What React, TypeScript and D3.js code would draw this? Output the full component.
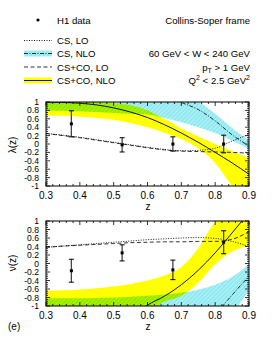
import React from "react";
import * as d3 from "d3";

const zGrid = [0.3, 0.35, 0.4, 0.45, 0.5, 0.55, 0.6, 0.65, 0.7, 0.75, 0.8, 0.85, 0.9];

// lambda(z)
const lamDataZ = [0.375, 0.525, 0.675, 0.825];
const lamData = [0.48, -0.02, 0.0, 0.0];
const lamErr = [0.31, 0.17, 0.17, 0.21];
const lamCsLo = [0.25, 0.21, 0.16, 0.1, 0.04, -0.02, -0.08, -0.13, -0.16, -0.15, -0.1, 0.07, 0.23];
const lamCoLo = [0.25, 0.2, 0.15, 0.09, 0.03, -0.03, -0.09, -0.14, -0.17, -0.18, -0.19, -0.2, -0.22];
const lamCsNloZ = [0.68, 0.7, 0.75, 0.8, 0.85, 0.9];
const lamCsNlo = [1.06, 0.99, 0.82, 0.55, 0.22, -0.05];
const lamCsNloLow = [0.8, 0.79, 0.78, 0.76, 0.74, 0.72, 0.7, 0.62, 0.52, 0.4, 0.26, 0.08, -0.12];
const lamCsNloHigh = [1.1, 1.1, 1.1, 1.1, 1.1, 1.1, 1.1, 1.1, 1.1, 1.0, 0.72, 0.38, 0.08];
const lamCoNlo = [1.0, 0.99, 0.97, 0.93, 0.86, 0.76, 0.63, 0.46, 0.26, 0.04, -0.2, -0.45, -0.72];
const lamCoNloLow = [0.68, 0.67, 0.65, 0.62, 0.58, 0.5, 0.4, 0.27, 0.12, -0.1, -0.45, -1.0, -1.5];
const lamCoNloHigh = [1.05, 1.03, 1.01, 0.99, 0.97, 0.92, 0.8, 0.6, 0.37, 0.18, 0.0, -0.17, -0.33];

// nu(z)
const nuDataZ = [0.375, 0.525, 0.675, 0.825];
const nuData = [-0.17, 0.25, -0.15, 0.5];
const nuErr = [0.27, 0.19, 0.23, 0.27];
const nuCsLo = [0.38, 0.41, 0.44, 0.47, 0.5, 0.53, 0.56, 0.58, 0.6, 0.61, 0.59, 0.52, 0.4];
const nuCoLo = [0.38, 0.41, 0.43, 0.45, 0.47, 0.49, 0.5, 0.51, 0.51, 0.52, 0.52, 0.57, 0.75];
const nuCsNloZ = [0.82, 0.86, 0.9];
const nuCsNlo = [-1.02, -0.65, -0.3];
const nuCsNloLow = [-1.1, -1.1, -1.1, -1.1, -1.1, -1.1, -1.1, -1.1, -1.1, -1.1, -1.1, -1.08, -0.6];
const nuCsNloHigh = [-0.82, -0.82, -0.82, -0.81, -0.8, -0.78, -0.76, -0.73, -0.69, -0.62, -0.5, -0.32, -0.02];
const nuCoNloZ = [0.58, 0.6, 0.65, 0.7, 0.75, 0.8, 0.85, 0.9];
const nuCoNlo = [-1.1, -0.98, -0.77, -0.5, -0.16, 0.25, 0.72, 1.2];
const nuCoNloLow = [-1.1, -1.1, -1.1, -1.1, -1.1, -1.1, -1.1, -0.9, -0.76, -0.45, -0.02, 0.28, 0.42];
const nuCoNloHigh = [-0.64, -0.63, -0.61, -0.58, -0.54, -0.48, -0.4, -0.28, -0.08, 0.36, 0.97, 1.15, 1.2];

const xTicks = [0.3, 0.4, 0.5, 0.6, 0.7, 0.8, 0.9];
const yTicks = [1, 0.8, 0.6, 0.4, 0.2, 0, -0.2, -0.4, -0.6, -0.8, -1];

const FONT = "'Liberation Sans', Arial, sans-serif";
const YELLOW = "#ffff00";

function Panel({ id, top, bottom, ylab, labY, d }) {
  const left = 46;
  const right = 249;
  const x = d3.scaleLinear().domain([0.3, 0.9]).range([left, right]);
  const y = d3.scaleLinear().domain([-1, 1]).range([bottom, top]);

  const line = (zs, vs) =>
    d3
      .line<number>()
      .x((_, i) => x(zs[i]))
      .y((v) => y(v))
      .curve(d3.curveMonotoneX)(vs);
  const area = (zs, lo, hi) =>
    d3
      .area<number>()
      .x((z) => x(z))
      .y0((_, i) => y(lo[i]))
      .y1((_, i) => y(hi[i]))
      .curve(d3.curveMonotoneX)(zs);

  const xMinor = d3.range(0.3, 0.9001, 0.02);
  const yMinor = d3.range(-1, 1.0001, 0.05);

  return (
    <g>
      <defs>
        <clipPath id={`clip-${id}`}>
          <rect x={left} y={top} width={right - left} height={bottom - top} />
        </clipPath>
      </defs>
      <g clipPath={`url(#clip-${id})`}>
        <path d={area(zGrid, d.coLow, d.coHigh)} fill={YELLOW} />
        <path
          d={area(zGrid, d.csLow, d.csHigh)}
          fill="url(#hatch)"
          style={{ mixBlendMode: "multiply" }}
        />
        <path d={line(d.csNloZ, d.csNlo)} fill="none" stroke="#000" strokeWidth={0.8} strokeDasharray="4,1.5,1,1.5" />
        <path d={line(zGrid, d.csLo)} fill="none" stroke="#000" strokeWidth={0.9} strokeDasharray="1,1.5" />
        <path d={line(zGrid, d.coLo)} fill="none" stroke="#000" strokeWidth={0.8} strokeDasharray="4,2.5" />
        <path d={line(d.coNloZ, d.coNlo)} fill="none" stroke="#000" strokeWidth={0.9} />
      </g>
      {d.dataZ.map((z, i) => {
        const cx = x(z);
        const y1 = y(d.data[i] + d.err[i]);
        const y2 = y(d.data[i] - d.err[i]);
        return (
          <g key={i}>
            <line x1={cx} x2={cx} y1={y1} y2={y2} stroke="#444" strokeWidth={1.3} />
            <line x1={cx - 2.5} x2={cx + 2.5} y1={y1} y2={y1} stroke="#000" strokeWidth={1} />
            <line x1={cx - 2.5} x2={cx + 2.5} y1={y2} y2={y2} stroke="#000" strokeWidth={1} />
            <rect x={cx - 1.5} y={y(d.data[i]) - 1.5} width={3} height={3} fill="#000" />
          </g>
        );
      })}
      {/* ticks */}
      {xMinor.map((t, i) => {
        const major = i % 5 === 0;
        const l = major ? 4 : 2;
        return (
          <g key={`xm${i}`} stroke="#000" strokeWidth={0.8}>
            <line x1={x(t)} x2={x(t)} y1={bottom} y2={bottom - l} />
            <line x1={x(t)} x2={x(t)} y1={top} y2={top + l} />
          </g>
        );
      })}
      {yMinor.map((t, i) => {
        const major = i % 4 === 0;
        const l = major ? 4 : 2;
        return (
          <g key={`ym${i}`} stroke="#000" strokeWidth={0.8}>
            <line x1={left} x2={left + l} y1={y(t)} y2={y(t)} />
            <line x1={right} x2={right - l} y1={y(t)} y2={y(t)} />
          </g>
        );
      })}
      <rect x={left} y={top} width={right - left} height={bottom - top} fill="none" stroke="#000" strokeWidth={1} />
      {xTicks.map((t) => (
        <text key={`xl${t}`} x={x(t)} y={bottom + 13} textAnchor="middle" fontSize={10}>
          {t.toFixed(1)}
        </text>
      ))}
      {yTicks.map((t) => (
        <text key={`yl${t}`} x={39} y={y(t) + 3} textAnchor="end" fontSize={8.6}>
          {String(Math.round(t * 10) / 10)}
        </text>
      ))}
      <text x={148} y={bottom + 24} textAnchor="middle" fontSize={10}>
        z
      </text>
      <text transform={`translate(16,${labY}) rotate(-90)`} textAnchor="middle" fontSize={10}>
        {ylab}
      </text>
    </g>
  );
}

function Legend() {
  const x1 = 24;
  const x2 = 52;
  const tx = 57;
  const rx = 250;
  return (
    <g fontSize={9.6}>
      <circle cx={38} cy={20} r={1.6} fill="#000" />
      <text x={tx} y={23.5}>H1 data</text>
      <text x={rx} y={23.5} textAnchor="end">Collins-Soper frame</text>

      <line x1={x1} x2={x2} y1={40.5} y2={40.5} stroke="#000" strokeWidth={0.9} strokeDasharray="1,1.5" />
      <text x={tx} y={44}>CS, LO</text>

      <rect x={x1} y={50.5} width={x2 - x1} height={6} fill="url(#hatch)" />
      <line x1={x1} x2={x2} y1={53.5} y2={53.5} stroke="#000" strokeWidth={0.8} strokeDasharray="4,1.5,1,1.5" />
      <text x={tx} y={57}>CS, NLO</text>

      <line x1={x1} x2={x2} y1={67} y2={67} stroke="#000" strokeWidth={0.8} strokeDasharray="4,2.5" />
      <text x={tx} y={70.5}>CS+CO, LO</text>

      <rect x={x1} y={77.5} width={x2 - x1} height={6} fill={YELLOW} />
      <line x1={x1} x2={x2} y1={80.5} y2={80.5} stroke="#000" strokeWidth={0.9} />
      <text x={tx} y={84}>CS+CO, NLO</text>

      <text x={rx} y={57} textAnchor="end">60 GeV &lt; W &lt; 240 GeV</text>
      <text x={rx} y={70.5} textAnchor="end">
        p<tspan fontSize={7} dy={2}>T</tspan>
        <tspan dy={-2}> &gt; 1 GeV</tspan>
      </text>
      <text x={rx} y={84} textAnchor="end">
        Q<tspan fontSize={7} dy={-4}>2</tspan>
        <tspan dy={4}> &lt; 2.5 GeV</tspan>
        <tspan fontSize={7} dy={-4}>2</tspan>
      </text>
    </g>
  );
}

export default function App() {
  const lam = {
    dataZ: lamDataZ, data: lamData, err: lamErr,
    csLo: lamCsLo, coLo: lamCoLo,
    csNloZ: lamCsNloZ, csNlo: lamCsNlo, csLow: lamCsNloLow, csHigh: lamCsNloHigh,
    coNloZ: zGrid, coNlo: lamCoNlo, coLow: lamCoNloLow, coHigh: lamCoNloHigh,
  };
  const nu = {
    dataZ: nuDataZ, data: nuData, err: nuErr,
    csLo: nuCsLo, coLo: nuCoLo,
    csNloZ: nuCsNloZ, csNlo: nuCsNlo, csLow: nuCsNloLow, csHigh: nuCsNloHigh,
    coNloZ: nuCoNloZ, coNlo: nuCoNlo, coLow: nuCoNloLow, coHigh: nuCoNloHigh,
  };
  return (
    <svg
      width={273}
      height={340}
      style={{ position: "absolute", left: 0, top: 0, background: "#fff" }}
      fontFamily={FONT}
    >
      <defs>
        <pattern id="hatch" patternUnits="userSpaceOnUse" width={3} height={3} patternTransform="rotate(-45)">
          <rect width={3} height={3} fill="#b4f4f8" />
          <line x1={0} x2={3} y1={1} y2={1} stroke="#6fdde8" strokeWidth={1} />
        </pattern>
      </defs>
      <Legend />
      <Panel id="lam" top={102} bottom={186} ylab="λ(z)" labY={145} d={lam} />
      <Panel id="nu" top={221} bottom={306} ylab="ν(z)" labY={263} d={nu} />
      <text x={8} y={330} fontSize={10}>(e)</text>
    </svg>
  );
}
